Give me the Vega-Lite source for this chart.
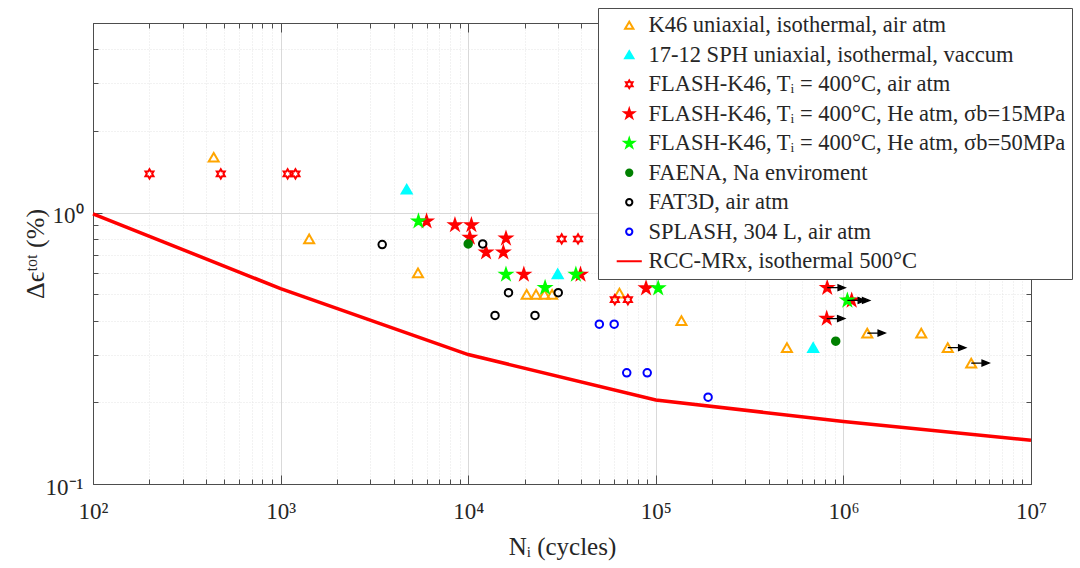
{
  "$schema": "https://vega.github.io/schema/vega-lite/v6.json",
  "width": 938,
  "height": 461,
  "autosize": "none",
  "padding": {"left": 93, "top": 23, "right": 49, "bottom": 84},
  "background": "white",
  "config": {
    "font": "Liberation Serif",
    "view": {"stroke": "#4d4d4d", "strokeWidth": 1}
  },
  "data": {
    "values": [
      {"N": 440, "strain": 1.6, "series": "K46 uniaxial, isothermal, air atm", "runout": false},
      {"N": 1420, "strain": 0.8, "series": "K46 uniaxial, isothermal, air atm", "runout": false},
      {"N": 5400, "strain": 0.6, "series": "K46 uniaxial, isothermal, air atm", "runout": false},
      {"N": 20500, "strain": 0.5, "series": "K46 uniaxial, isothermal, air atm", "runout": false},
      {"N": 23000, "strain": 0.5, "series": "K46 uniaxial, isothermal, air atm", "runout": false},
      {"N": 25500, "strain": 0.5, "series": "K46 uniaxial, isothermal, air atm", "runout": false},
      {"N": 28000, "strain": 0.5, "series": "K46 uniaxial, isothermal, air atm", "runout": false},
      {"N": 64000, "strain": 0.505, "series": "K46 uniaxial, isothermal, air atm", "runout": false},
      {"N": 137000, "strain": 0.4, "series": "K46 uniaxial, isothermal, air atm", "runout": false},
      {"N": 500000, "strain": 0.318, "series": "K46 uniaxial, isothermal, air atm", "runout": false},
      {"N": 1340000, "strain": 0.36, "series": "K46 uniaxial, isothermal, air atm", "runout": true},
      {"N": 2600000, "strain": 0.36, "series": "K46 uniaxial, isothermal, air atm", "runout": false},
      {"N": 3600000, "strain": 0.318, "series": "K46 uniaxial, isothermal, air atm", "runout": true},
      {"N": 4800000, "strain": 0.279, "series": "K46 uniaxial, isothermal, air atm", "runout": true},
      {"N": 4700, "strain": 1.22, "series": "17-12 SPH uniaxial, isothermal, vaccum", "runout": false},
      {"N": 30000, "strain": 0.595, "series": "17-12 SPH uniaxial, isothermal, vaccum", "runout": false},
      {"N": 690000, "strain": 0.318, "series": "17-12 SPH uniaxial, isothermal, vaccum", "runout": false},
      {"N": 200, "strain": 1.39, "series": "FLASH-K46, Tᵢ = 400°C, air atm", "runout": false},
      {"N": 480, "strain": 1.39, "series": "FLASH-K46, Tᵢ = 400°C, air atm", "runout": false},
      {"N": 1090, "strain": 1.39, "series": "FLASH-K46, Tᵢ = 400°C, air atm", "runout": false},
      {"N": 1200, "strain": 1.39, "series": "FLASH-K46, Tᵢ = 400°C, air atm", "runout": false},
      {"N": 31500, "strain": 0.8, "series": "FLASH-K46, Tᵢ = 400°C, air atm", "runout": false},
      {"N": 38500, "strain": 0.8, "series": "FLASH-K46, Tᵢ = 400°C, air atm", "runout": false},
      {"N": 60500, "strain": 0.478, "series": "FLASH-K46, Tᵢ = 400°C, air atm", "runout": false},
      {"N": 71000, "strain": 0.478, "series": "FLASH-K46, Tᵢ = 400°C, air atm", "runout": false},
      {"N": 6000, "strain": 0.93, "series": "FLASH-K46, Tᵢ = 400°C, He atm, σb=15MPa", "runout": false},
      {"N": 8500, "strain": 0.9, "series": "FLASH-K46, Tᵢ = 400°C, He atm, σb=15MPa", "runout": false},
      {"N": 10400, "strain": 0.9, "series": "FLASH-K46, Tᵢ = 400°C, He atm, σb=15MPa", "runout": false},
      {"N": 10200, "strain": 0.81, "series": "FLASH-K46, Tᵢ = 400°C, He atm, σb=15MPa", "runout": false},
      {"N": 12450, "strain": 0.715, "series": "FLASH-K46, Tᵢ = 400°C, He atm, σb=15MPa", "runout": false},
      {"N": 15900, "strain": 0.804, "series": "FLASH-K46, Tᵢ = 400°C, He atm, σb=15MPa", "runout": false},
      {"N": 15400, "strain": 0.715, "series": "FLASH-K46, Tᵢ = 400°C, He atm, σb=15MPa", "runout": false},
      {"N": 19800, "strain": 0.592, "series": "FLASH-K46, Tᵢ = 400°C, He atm, σb=15MPa", "runout": false},
      {"N": 39700, "strain": 0.592, "series": "FLASH-K46, Tᵢ = 400°C, He atm, σb=15MPa", "runout": false},
      {"N": 88700, "strain": 0.527, "series": "FLASH-K46, Tᵢ = 400°C, He atm, σb=15MPa", "runout": false},
      {"N": 820000, "strain": 0.529, "series": "FLASH-K46, Tᵢ = 400°C, He atm, σb=15MPa", "runout": true},
      {"N": 1107000, "strain": 0.475, "series": "FLASH-K46, Tᵢ = 400°C, He atm, σb=15MPa", "runout": true},
      {"N": 815000, "strain": 0.407, "series": "FLASH-K46, Tᵢ = 400°C, He atm, σb=15MPa", "runout": true},
      {"N": 5430, "strain": 0.93, "series": "FLASH-K46, Tᵢ = 400°C, He atm, σb=50MPa", "runout": false},
      {"N": 15900, "strain": 0.592, "series": "FLASH-K46, Tᵢ = 400°C, He atm, σb=50MPa", "runout": false},
      {"N": 25700, "strain": 0.529, "series": "FLASH-K46, Tᵢ = 400°C, He atm, σb=50MPa", "runout": false},
      {"N": 37500, "strain": 0.592, "series": "FLASH-K46, Tᵢ = 400°C, He atm, σb=50MPa", "runout": false},
      {"N": 103000, "strain": 0.527, "series": "FLASH-K46, Tᵢ = 400°C, He atm, σb=50MPa", "runout": false},
      {"N": 1050000, "strain": 0.475, "series": "FLASH-K46, Tᵢ = 400°C, He atm, σb=50MPa", "runout": true},
      {"N": 10000, "strain": 0.767, "series": "FAENA, Na enviroment", "runout": false},
      {"N": 910000, "strain": 0.336, "series": "FAENA, Na enviroment", "runout": false},
      {"N": 3480, "strain": 0.763, "series": "FAT3D, air atm", "runout": false},
      {"N": 11950, "strain": 0.767, "series": "FAT3D, air atm", "runout": false},
      {"N": 16400, "strain": 0.507, "series": "FAT3D, air atm", "runout": false},
      {"N": 30200, "strain": 0.507, "series": "FAT3D, air atm", "runout": false},
      {"N": 13900, "strain": 0.418, "series": "FAT3D, air atm", "runout": false},
      {"N": 22700, "strain": 0.418, "series": "FAT3D, air atm", "runout": false},
      {"N": 50000, "strain": 0.388, "series": "SPLASH, 304 L, air atm", "runout": false},
      {"N": 60000, "strain": 0.388, "series": "SPLASH, 304 L, air atm", "runout": false},
      {"N": 70000, "strain": 0.257, "series": "SPLASH, 304 L, air atm", "runout": false},
      {"N": 90000, "strain": 0.257, "series": "SPLASH, 304 L, air atm", "runout": false},
      {"N": 190000, "strain": 0.209, "series": "SPLASH, 304 L, air atm", "runout": false},
      {"N": 100, "strain": 0.99, "series": "RCC-MRx, isothermal 500°C", "runout": false},
      {"N": 1000, "strain": 0.525, "series": "RCC-MRx, isothermal 500°C", "runout": false},
      {"N": 10000, "strain": 0.3, "series": "RCC-MRx, isothermal 500°C", "runout": false},
      {"N": 100000, "strain": 0.204, "series": "RCC-MRx, isothermal 500°C", "runout": false},
      {"N": 1000000, "strain": 0.17, "series": "RCC-MRx, isothermal 500°C", "runout": false},
      {"N": 10000000, "strain": 0.145, "series": "RCC-MRx, isothermal 500°C", "runout": false}
    ]
  },
  "layer": [
    {
      "transform": [{"filter": "indexof(datum.series, 'RCC') == 0"}],
      "mark": {"type": "line", "strokeWidth": 3.5},
      "encoding": {
        "x": {"field": "N", "type": "quantitative",
          "scale": {"type": "log", "domain": [100, 10000000], "nice": false},
          "axis": {"orient": "top", "title": null, "labels": false, "grid": false,
            "values": [100,200,300,400,500,600,700,800,900,1000,2000,3000,4000,5000,6000,7000,8000,9000,10000,20000,30000,40000,50000,60000,70000,80000,90000,100000,200000,300000,400000,500000,600000,700000,800000,900000,1000000,2000000,3000000,4000000,5000000,6000000,7000000,8000000,9000000,10000000],
            "tickSize": {"condition": {"test": "abs(log(datum.value)/LN10 - round(log(datum.value)/LN10)) < 0.001", "value": -9}, "value": -5},
            "tickColor": "#4d4d4d", "domainColor": "#4d4d4d"}},
        "y": {"field": "strain", "type": "quantitative",
          "scale": {"type": "log", "domain": [0.1, 5], "nice": false},
          "axis": {"orient": "right", "title": null, "labels": false, "grid": false,
            "values": [0.1,0.2,0.3,0.4,0.5,0.6,0.7,0.8,0.9,1,2,3,4,5],
            "tickSize": {"condition": {"test": "abs(log(datum.value)/LN10 - round(log(datum.value)/LN10)) < 0.001", "value": -9}, "value": -5},
            "tickColor": "#4d4d4d", "domainColor": "#4d4d4d"}},
        "stroke": {"field": "series", "type": "nominal",
          "scale": {"domain": ["K46 uniaxial, isothermal, air atm", "17-12 SPH uniaxial, isothermal, vaccum", "FLASH-K46, Tᵢ = 400°C, air atm", "FLASH-K46, Tᵢ = 400°C, He atm, σb=15MPa", "FLASH-K46, Tᵢ = 400°C, He atm, σb=50MPa", "FAENA, Na enviroment", "FAT3D, air atm", "SPLASH, 304 L, air atm", "RCC-MRx, isothermal 500°C"],
            "range": ["#FFA500", "#00FFFF", "#FF0000", "#FF0000", "#00FF00", "#008000", "#000000", "#0000FF", "#FF0000"]},
          "legend": {"title": null, "orient": "none", "legendX": 505, "legendY": -15, "fillColor": "white", "strokeColor": "#4d4d4d", "padding": 6, "labelFontSize": 22.5, "labelColor": "#262626", "labelFont": "Liberation Serif", "labelLimit": 600, "symbolSize": 70, "symbolStrokeWidth": 2, "rowPadding": 6.5, "symbolOffset": 14, "labelOffset": 8, "zindex": 1}}
      }
    },
    {
      "transform": [{"filter": "indexof(datum.series, 'RCC') != 0"}],
      "mark": {"type": "point", "size": 100, "strokeWidth": 2, "opacity": 1},
      "encoding": {
        "x": {"field": "N", "type": "quantitative",
          "axis": {"orient": "bottom", "title": "Nᵢ (cycles)",
            "values": [100,200,300,400,500,600,700,800,900,1000,2000,3000,4000,5000,6000,7000,8000,9000,10000,20000,30000,40000,50000,60000,70000,80000,90000,100000,200000,300000,400000,500000,600000,700000,800000,900000,1000000,2000000,3000000,4000000,5000000,6000000,7000000,8000000,9000000,10000000],
            "labelExpr": "datum.value==100?'10²':datum.value==1000?'10³':datum.value==10000?'10⁴':datum.value==100000?'10⁵':datum.value==1000000?'10⁶':datum.value==10000000?'10⁷':''",
            "labelFlush": false, "labelOverlap": false, "labelFontSize": 23, "labelColor": "#262626", "labelPadding": 25,
            "grid": true,
            "gridColor": {"condition": {"test": "abs(log(datum.value)/LN10 - round(log(datum.value)/LN10)) < 0.001", "value": "#d9d9d9"}, "value": "#e4e4e4"},
            "gridDash": {"condition": {"test": "abs(log(datum.value)/LN10 - round(log(datum.value)/LN10)) < 0.001", "value": []}, "value": [1, 2]},
            "tickSize": {"condition": {"test": "abs(log(datum.value)/LN10 - round(log(datum.value)/LN10)) < 0.001", "value": -9}, "value": -5},
            "tickColor": "#4d4d4d", "domainColor": "#4d4d4d",
            "titleFontSize": 25, "titleFontWeight": "normal", "titleColor": "#262626", "titlePadding": 7}},
        "y": {"field": "strain", "type": "quantitative",
          "axis": {"orient": "left", "title": "Δϵᵗᵒᵗ (%)",
            "values": [0.1,0.2,0.3,0.4,0.5,0.6,0.7,0.8,0.9,1,2,3,4,5],
            "labelExpr": "datum.value==0.1?'10⁻¹':datum.value==1?'10⁰':''",
            "labelOverlap": false, "labelFontSize": 23, "labelColor": "#262626", "labelPadding": 19, "labelOffset": 3,
            "grid": true,
            "gridColor": {"condition": {"test": "abs(log(datum.value)/LN10 - round(log(datum.value)/LN10)) < 0.001", "value": "#d9d9d9"}, "value": "#e4e4e4"},
            "gridDash": {"condition": {"test": "abs(log(datum.value)/LN10 - round(log(datum.value)/LN10)) < 0.001", "value": []}, "value": [1, 2]},
            "tickSize": {"condition": {"test": "abs(log(datum.value)/LN10 - round(log(datum.value)/LN10)) < 0.001", "value": -9}, "value": -5},
            "tickColor": "#4d4d4d", "domainColor": "#4d4d4d",
            "titleFontSize": 26, "titleFontWeight": "normal", "titleColor": "#262626", "titlePadding": -3}},
        "stroke": {"field": "series", "type": "nominal",
          "legend": {"title": null, "orient": "none", "legendX": 505, "legendY": -15, "fillColor": "white", "strokeColor": "#4d4d4d", "padding": 6, "labelFontSize": 22.5, "labelColor": "#262626", "labelFont": "Liberation Serif", "labelLimit": 600, "symbolSize": 70, "symbolStrokeWidth": 2, "rowPadding": 6.5, "symbolOffset": 14, "labelOffset": 8, "zindex": 1}},
        "fill": {"field": "series", "type": "nominal",
          "scale": {"domain": ["K46 uniaxial, isothermal, air atm", "17-12 SPH uniaxial, isothermal, vaccum", "FLASH-K46, Tᵢ = 400°C, air atm", "FLASH-K46, Tᵢ = 400°C, He atm, σb=15MPa", "FLASH-K46, Tᵢ = 400°C, He atm, σb=50MPa", "FAENA, Na enviroment", "FAT3D, air atm", "SPLASH, 304 L, air atm", "RCC-MRx, isothermal 500°C"],
            "range": ["transparent", "#00FFFF", "transparent", "#FF0000", "#00FF00", "#008000", "transparent", "transparent", "transparent"]},
          "legend": {"title": null, "orient": "none", "legendX": 505, "legendY": -15, "fillColor": "white", "strokeColor": "#4d4d4d", "padding": 6, "labelFontSize": 22.5, "labelColor": "#262626", "labelFont": "Liberation Serif", "labelLimit": 600, "symbolSize": 70, "symbolStrokeWidth": 2, "rowPadding": 6.5, "symbolOffset": 14, "labelOffset": 8, "zindex": 1}},
        "shape": {"field": "series", "type": "nominal",
          "scale": {"domain": ["K46 uniaxial, isothermal, air atm", "17-12 SPH uniaxial, isothermal, vaccum", "FLASH-K46, Tᵢ = 400°C, air atm", "FLASH-K46, Tᵢ = 400°C, He atm, σb=15MPa", "FLASH-K46, Tᵢ = 400°C, He atm, σb=50MPa", "FAENA, Na enviroment", "FAT3D, air atm", "SPLASH, 304 L, air atm", "RCC-MRx, isothermal 500°C"],
            "range": ["triangle-up", "triangle-up",
              "M0,-0.92L0.266,-0.46L0.797,-0.46L0.531,0L0.797,0.46L0.266,0.46L0,0.92L-0.266,0.46L-0.797,0.46L-0.531,0L-0.797,-0.46L-0.266,-0.46Z",
              "M0,-1.15L0.259,-0.355L1.094,-0.355L0.418,0.136L0.676,0.93L0,0.439L-0.676,0.93L-0.418,0.136L-1.094,-0.355L-0.259,-0.355Z",
              "M0,-1.15L0.259,-0.355L1.094,-0.355L0.418,0.136L0.676,0.93L0,0.439L-0.676,0.93L-0.418,0.136L-1.094,-0.355L-0.259,-0.355Z",
              "M-0.75,0A0.75,0.75 0 1,0 0.75,0A0.75,0.75 0 1,0 -0.75,0Z",
              "M-0.75,0A0.75,0.75 0 1,0 0.75,0A0.75,0.75 0 1,0 -0.75,0Z",
              "M-0.75,0A0.75,0.75 0 1,0 0.75,0A0.75,0.75 0 1,0 -0.75,0Z",
              "M-3,0L3,0"]},
          "legend": {"title": null, "orient": "none", "legendX": 505, "legendY": -15, "fillColor": "white", "strokeColor": "#4d4d4d", "padding": 6, "labelFontSize": 22.5, "labelColor": "#262626", "labelFont": "Liberation Serif", "labelLimit": 600, "symbolSize": 70, "symbolStrokeWidth": 2, "rowPadding": 6.5, "symbolOffset": 14, "labelOffset": 8, "zindex": 1}}
      }
    },
    {
      "transform": [{"filter": "datum.runout"}],
      "mark": {"type": "point", "shape": "M0,0L1.45,0M1.2,-0.32L2,0L1.2,0.32Z", "size": 324, "filled": true, "fill": "black", "stroke": "black", "strokeWidth": 1.3, "opacity": 1},
      "encoding": {
        "x": {"field": "N", "type": "quantitative", "axis": null},
        "y": {"field": "strain", "type": "quantitative", "axis": null}
      }
    }
  ],
  "resolve": {"axis": {"x": "independent", "y": "independent"}}
}
